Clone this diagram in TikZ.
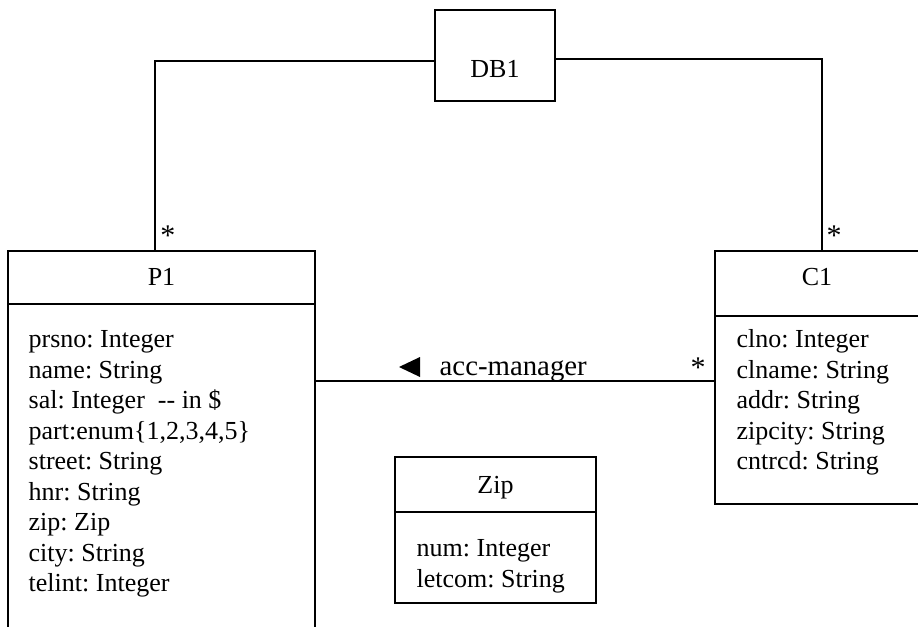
\documentclass[tikz,border=0pt]{standalone}
\usepackage{fontspec}
\setmainfont{Liberation Serif}
\frenchspacing
\begin{document}
\begin{tikzpicture}[x=0.5pt,y=-0.5pt,line width=0.7pt]
        \tikzstyle{box} = [draw,rectangle,inner sep=0pt]
        \tikzstyle{txt} = [inner sep=0pt,font=\fontsize{13}{15.25}\selectfont]
        \tikzstyle{attrs} = [txt,anchor=north west,align=left]

        \useasboundingbox (0,0) rectangle (918,627);

        % boxes
        \node[box,minimum width=60pt,minimum height=45.5pt] (DB1) at (495,55.5){};
        \node[box,minimum width=153.5pt,minimum height=26.5pt] (P1) at (161.5,277.5){};
        \node[box,minimum width=153.5pt,minimum height=178pt] (P1body) at (161.5,482){};
        \node[box,minimum width=103pt,minimum height=32.5pt] (C1) at (818,283.5){};
        \node[box,minimum width=103pt,minimum height=94pt] (C1body) at (818,410){};
        \node[box,minimum width=100.5pt,minimum height=27.5pt] (Zip) at (495.5,484.5){};
        \node[box,minimum width=100.5pt,minimum height=45.5pt] (Zipbody) at (495.5,557.5){};

        % names
        \node[txt,anchor=base] (DB1name) at (495,77){DB1};
        \node[txt,anchor=base] (P1name) at (161.5,285){P1};
        \node[txt,anchor=base] (C1name) at (817,285){C1};
        \node[txt,anchor=base] (Zipname) at (495.5,493){Zip};

        % attributes
        \node[attrs] (P1attr) at (28,330){prsno: Integer\\name: String\\sal: Integer\ \ -{}- in \$\\part:enum\{1,2,3,4,5\}\\street: String\\hnr: String\\zip: Zip\\city: String\\telint: Integer};
        \node[attrs] (C1attr) at (736,329){clno: Integer\\clname: String\\addr: String\\zipcity: String\\cntrcd: String};
        \node[attrs] (Zipattr) at (416,539){num: Integer\\letcom: String};

        % associations
        \draw ([yshift=-2.75pt]DB1.west) -| ([xshift=-3.25pt]P1.north);
        \draw ([yshift=-1.75pt]DB1.east) -| ([xshift=2pt]C1.north);
        \coordinate (am) at (715,381);
        \draw (am) -- (am -| P1body.east);

        \node[txt,anchor=base,font=\fontsize{15}{16}\selectfont] (P1mult) at (168,245){*};
        \node[txt,anchor=base,font=\fontsize{15}{16}\selectfont] (C1mult) at (834,245){*};
        \node[txt,anchor=base,font=\fontsize{15}{16}\selectfont] (ammult) at (698,377){*};

        \fill (399,367) -- (420,357) -- (420,377) -- cycle;
        \node[txt,anchor=base west,font=\fontsize{14.4}{16}\selectfont] (amname) at (439,375){acc-manager};

    \end{tikzpicture}
\end{document}
